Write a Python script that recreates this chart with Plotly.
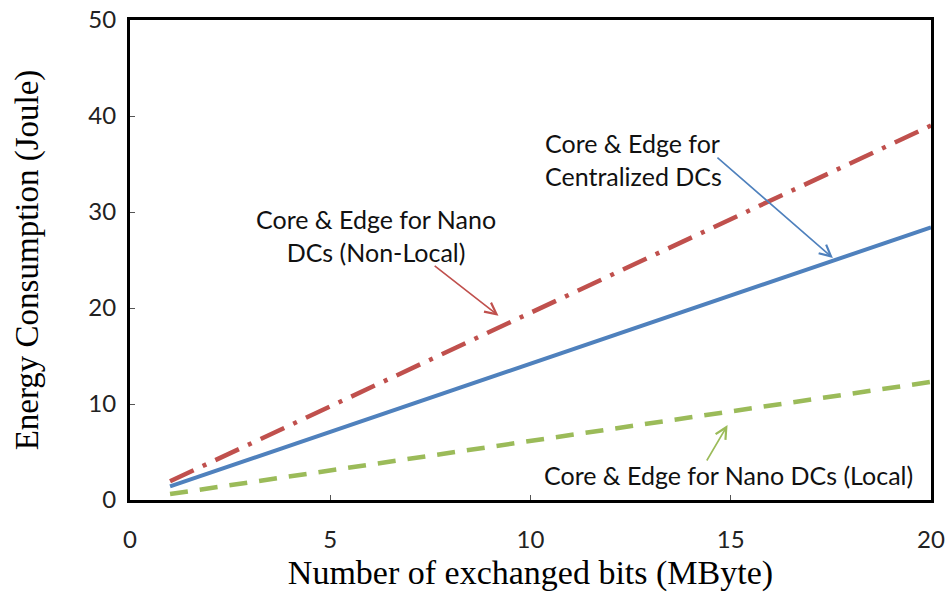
import plotly.graph_objects as go

x_mbyte = [1, 2, 3, 4, 5, 6, 7, 8, 9, 10, 11, 12, 13, 14, 15, 16, 17, 18, 19, 20]
nano_nonlocal = [1.95, 3.9, 5.85, 7.8, 9.75, 11.7, 13.65, 15.6, 17.55, 19.5,
                 21.45, 23.4, 25.35, 27.3, 29.25, 31.2, 33.15, 35.1, 37.05, 39.0]
centralized = [1.42, 2.84, 4.26, 5.68, 7.1, 8.52, 9.94, 11.36, 12.78, 14.2,
               15.62, 17.04, 18.46, 19.88, 21.3, 22.72, 24.14, 25.56, 26.98, 28.4]
nano_local = [0.62, 1.23, 1.85, 2.46, 3.08, 3.69, 4.31, 4.92, 5.54, 6.15,
              6.77, 7.38, 8.0, 8.61, 9.23, 9.84, 10.46, 11.07, 11.69, 12.3]

x_ticks = [0, 5, 10, 15, 20]
y_ticks = [0, 10, 20, 30, 40, 50]

RED = "#C0504D"
BLUE = "#4F81BD"
GREEN = "#9BBB59"

fig = go.Figure()
fig.add_trace(go.Scatter(x=x_mbyte, y=nano_nonlocal, mode="lines",
                         line=dict(color=RED, width=4.5, dash="26px,10px,4px,10px"),
                         name="Core & Edge for Nano DCs (Non-Local)"))
fig.add_trace(go.Scatter(x=x_mbyte, y=centralized, mode="lines",
                         line=dict(color=BLUE, width=4),
                         name="Core & Edge for Centralized DCs"))
fig.add_trace(go.Scatter(x=x_mbyte, y=nano_local, mode="lines",
                         line=dict(color=GREEN, width=4.5, dash="18px,12px"),
                         name="Core & Edge for Nano DCs (Local)"))

txt_font = dict(family="Lato, 'Open Sans', sans-serif", size=25, color="#111111")

# Text labels
fig.add_annotation(x=12.58, y=35.5, xref="x", yref="y", showarrow=False,
                   text="Core &amp; Edge for<br>Centralized DCs", align="left",
                   font=txt_font)
fig.add_annotation(x=6.15, y=27.6, xref="x", yref="y", showarrow=False,
                   text="Core &amp; Edge for Nano<br>DCs (Non-Local)", align="center",
                   font=txt_font)
fig.add_annotation(x=14.95, y=2.6, xref="x", yref="y", showarrow=False,
                   text="Core &amp; Edge for Nano DCs (Local)", align="center",
                   font=txt_font)

# Arrows
for (hx, hy, tx, ty, col) in [(17.55, 25.2, 14.63, 35.8, BLUE),
                              (9.2, 19.2, 7.57, 24.5, RED),
                              (14.92, 7.8, 14.38, 3.96, GREEN)]:
    fig.add_annotation(x=hx, y=hy, ax=tx, ay=ty, xref="x", yref="y",
                       axref="x", ayref="y", text="", showarrow=True,
                       arrowhead=5, arrowsize=1.4, arrowwidth=1.6, arrowcolor=col)

axis_common = dict(showline=True, linecolor="black", linewidth=3, mirror=True,
                   showgrid=False, zeroline=False, ticks="inside", ticklen=5,
                   tickcolor="#555555", tickwidth=1, ticklabeloverflow="allow",
                   automargin=False,
                   tickfont=dict(family="Lato, 'Open Sans', sans-serif", size=24, color="#222222"))

fig.update_xaxes(range=[0, 20], tickvals=x_ticks, **axis_common,
                 ticklabelstandoff=16,
                 title=dict(text="Number of exchanged bits (MByte)", standoff=14,
                            font=dict(family="Liberation Serif, Times New Roman, serif", size=34, color="black")))
fig.update_yaxes(range=[0, 50], tickvals=y_ticks, **axis_common,
                 ticklabelstandoff=6,
                 title=dict(text="Energy Consumption (Joule)", standoff=40,
                            font=dict(family="Liberation Serif, Times New Roman, serif", size=33, color="black")))

fig.update_layout(width=947, height=592, margin=dict(l=130, r=16, t=20, b=92),
                  plot_bgcolor="white", paper_bgcolor="white", showlegend=False)

fig.write_html("out.html", config={"displayModeBar": False},
               post_script="document.body.style.margin='0';document.body.style.overflow='hidden';")
